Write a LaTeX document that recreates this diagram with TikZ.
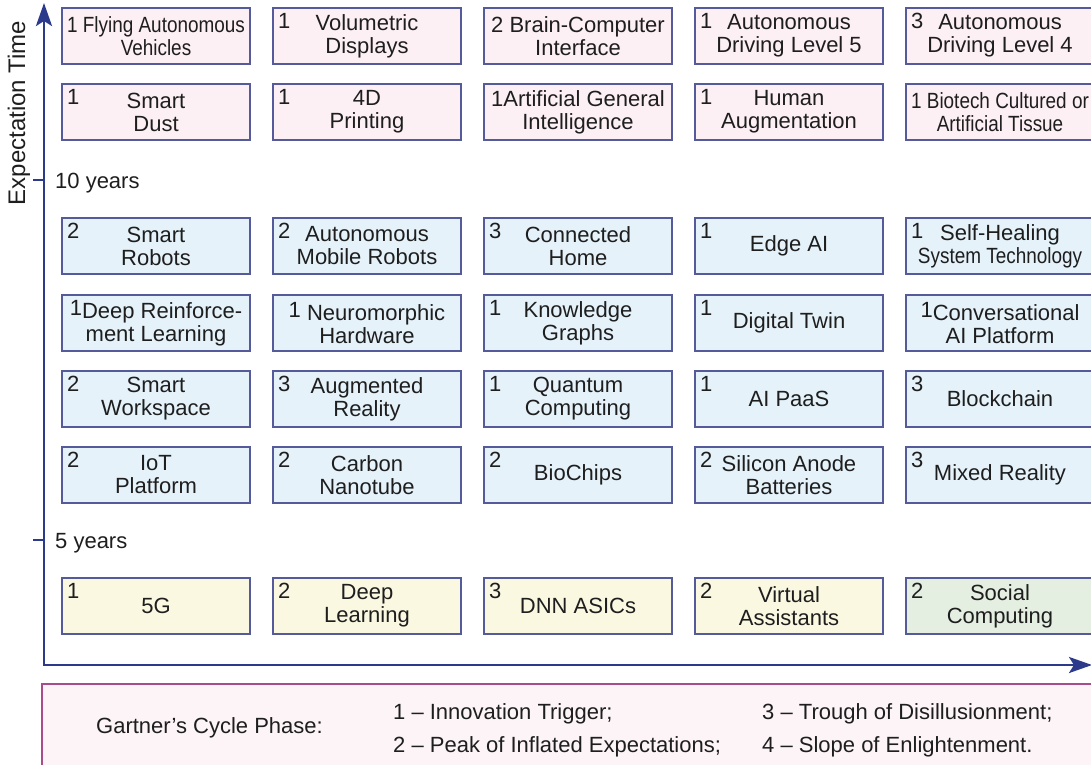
\documentclass[tikz,border=0pt]{standalone}
\usepackage{fontspec}
\setmainfont{Liberation Sans}
\newfontfamily\narrowfont[FakeStretch=0.86]{Liberation Sans}
\usetikzlibrary{positioning,arrows.meta}

\definecolor{boxline}{RGB}{84,90,154}
\definecolor{axisblue}{RGB}{44,58,140}
\definecolor{farpink}{RGB}{252,240,245}
\definecolor{midblue}{RGB}{229,242,250}
\definecolor{nearyellow}{RGB}{251,248,226}
\definecolor{nowgreen}{RGB}{228,239,226}
\definecolor{legendline}{RGB}{168,76,140}
\definecolor{legendfill}{RGB}{252,244,247}
\definecolor{ink}{RGB}{30,30,30}

\begin{document}
\begin{tikzpicture}[x=1pt, y=-1pt, >={Stealth[length=23pt, width=16pt, inset=5pt]},
    node distance=20pt and 23pt, font=\fontsize{22}{23}\selectfont, text=ink]
  \tikzstyle{tech}=[draw=boxline, line width=1.8pt, minimum width=188pt, inner sep=3pt,
    minimum height=56pt, align=center, outer sep=0pt]
  \tikzstyle{far}=[tech, fill=farpink]
  \tikzstyle{mid}=[tech, fill=midblue]
  \tikzstyle{near}=[tech, fill=nearyellow]
  \tikzstyle{narrow}=[font=\fontsize{22}{23}\selectfont\narrowfont]
  \tikzstyle{axis}=[draw=axisblue, line width=2.8pt, line join=miter]
  \tikzstyle{lgd}=[anchor=base west, inner sep=0pt]
  \tikzset{ph/.style={label={[anchor=north west, inner sep=0pt, xshift=5pt, yshift=-5pt]north west:#1}}}

  \useasboundingbox (0,0) rectangle (1091,764);

  % more than 10 years
  \node[far, narrow] (fav) at (156,36) {1 Flying Autonomous\\Vehicles};
  \node[far, ph=1, right=of fav] (vold) {Volumetric\\Displays};
  \node[far, right=of vold] (bci) {2 Brain-Computer\\Interface};
  \node[far, ph=1, right=of bci] (adl5) {Autonomous\\Driving Level 5};
  \node[far, ph=3, right=of adl5] (adl4) {Autonomous\\Driving Level 4};

  \node[far, ph=1, below=of fav] (sdust) {Smart\\Dust};
  \node[far, ph=1, right=of sdust] (print4d) {4D\\Printing};
  \node[far, right=of print4d] (agi) {1Artificial General\\Intelligence};
  \node[far, ph=1, right=of agi] (haug) {Human\\Augmentation};
  \node[far, narrow, right=of haug] (tissue) {1 Biotech Cultured or\\Artificial Tissue};

  % 5 to 10 years
  \node[mid, ph=2, below=78pt of sdust] (srob) {Smart\\Robots};
  \node[mid, ph=2, right=of srob] (amr) {Autonomous\\Mobile Robots};
  \node[mid, ph=3, right=of amr] (chome) {Connected\\Home};
  \node[mid, ph=1, right=of chome] (edgeai) {Edge AI};
  \node[mid, ph=1, right=of edgeai] (selfheal) {Self-Healing\\{\narrowfont System Technology}};

  \node[mid, below=21pt of srob] (drl) {\raisebox{3pt}{1}Deep Reinforce-\\ment Learning};
  \node[mid, right=of drl] (neuro) {\raisebox{3pt}{1} Neuromorphic\\Hardware};
  \node[mid, ph=1, right=of neuro] (kgraph) {Knowledge\\Graphs};
  \node[mid, ph=1, right=of kgraph] (dtwin) {Digital Twin};
  \node[mid, right=of dtwin] (convai) {\raisebox{3pt}{1}Conversational\\AI Platform};

  \node[mid, ph=2, below=of drl] (swork) {Smart\\Workspace};
  \node[mid, ph=3, right=of swork] (ar) {Augmented\\Reality};
  \node[mid, ph=1, right=of ar] (qc) {Quantum\\Computing};
  \node[mid, ph=1, right=of qc] (paas) {AI PaaS};
  \node[mid, ph=3, right=of paas] (bchain) {Blockchain};

  \node[mid, ph=2, below=of swork] (iot) {IoT\\Platform};
  \node[mid, ph=2, right=of iot] (cnt) {Carbon\\Nanotube};
  \node[mid, ph=2, right=of cnt] (biochip) {BioChips};
  \node[mid, ph=2, right=of biochip] (sianode) {Silicon Anode\\Batteries};
  \node[mid, ph=3, right=of sianode] (mreal) {Mixed Reality};

  % less than 5 years
  \node[near, ph=1, below=75pt of iot] (fiveg) {5G};
  \node[near, ph=2, right=of fiveg] (dlearn) {Deep\\Learning};
  \node[near, ph=3, right=of dlearn] (dnn) {DNN ASICs};
  \node[near, ph=2, right=of dnn] (vassist) {Virtual\\Assistants};
  \node[tech, fill=nowgreen, ph=2, right=of vassist] (social) {Social\\Computing};

  % axes
  \coordinate (origin) at (44,665);
  \coordinate (ytip) at (44,3);
  \coordinate (xtip) at (1092,665);
  \coordinate (t10) at (44,180);
  \coordinate (t5) at (44,540);
  \draw[axis, <->] (ytip) -- (origin) -- (xtip);
  \draw[axis, line width=2pt] (t10) -- ++(-11,0);
  \draw[axis, line width=2pt] (t5) -- ++(-11,0);
  \node[lgd] (ten) at (55,188) {10 years};
  \node[lgd] (five) at (55,548) {5 years};
  \node[rotate=90, font=\fontsize{24}{25}\selectfont] (ylab) at (19,113) {Expectation Time};

  % legend
  \draw[draw=legendline, fill=legendfill, line width=2pt] (42,684) rectangle (1120,800);
  \node[lgd] (cycle) at (96,733) {Gartner’s Cycle Phase:};
  \node[lgd] (ph1) at (393,719) {1 -- Innovation Trigger;};
  \node[lgd] (ph2) at (393,752) {2 -- Peak of Inflated Expectations;};
  \node[lgd] (ph3) at (762,719) {3 -- Trough of Disillusionment;};
  \node[lgd] (ph4) at (762,752) {4 -- Slope of Enlightenment.};
\end{tikzpicture}
\end{document}
